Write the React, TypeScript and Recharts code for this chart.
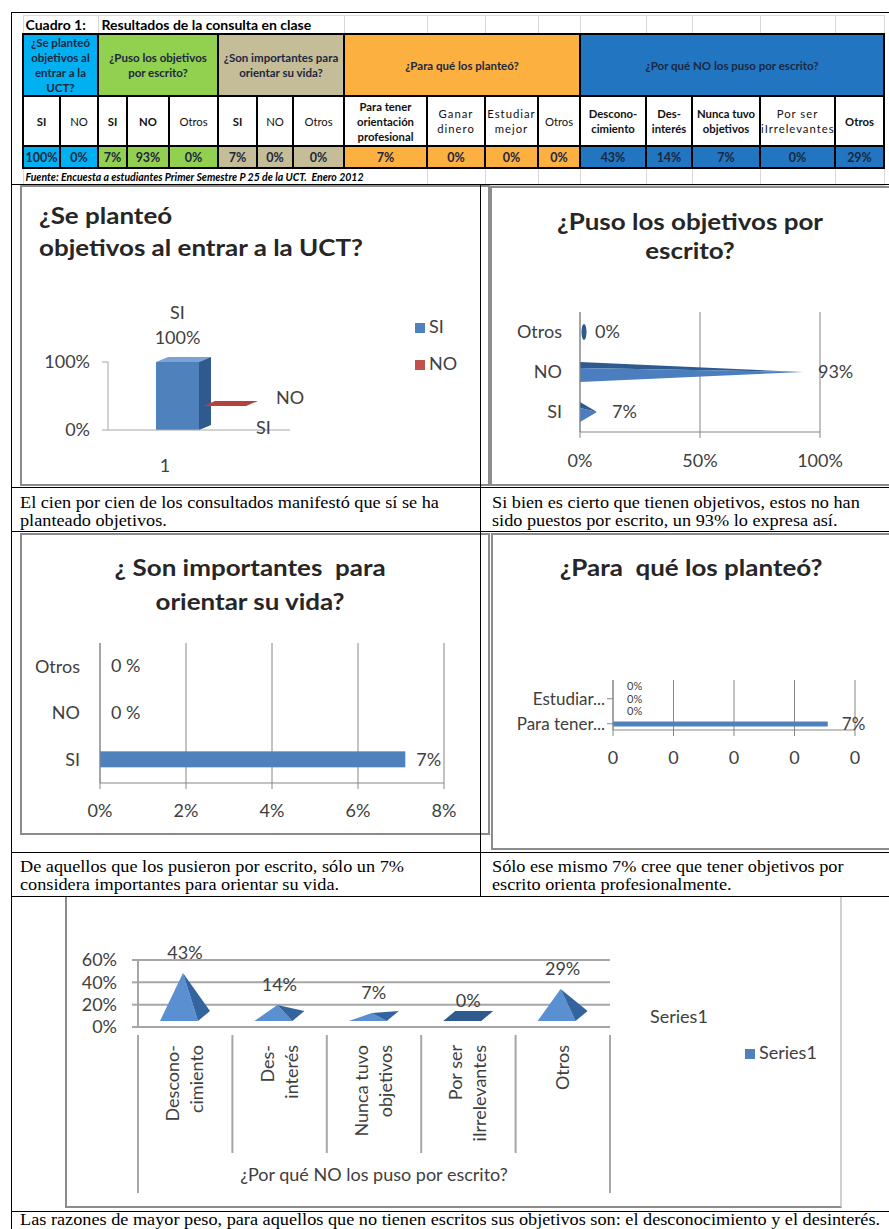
import React from 'react';
import { BarChart, Bar, XAxis, YAxis, CartesianGrid, LabelList } from 'recharts';

// --- datos (Cuadro 1) ---
const plantCats = ['SI', 'NO'];
const plantVals = [1, 0];

const pusoCats = ['SI', 'NO', 'Otros'];
const pusoVals = [0.071, 0.929, 0];

const impCats = ['SI', 'NO', 'Otros'];
const impVals = [0.071, 0, 0];

const paraCats = ['Para tener\norientación\nprofesional', 'Ganar\ndinero', 'Estudiar\nmejor', 'Otros'];
const paraVals = [0.071, 0, 0, 0];

const porqueCats = ['Descono-\ncimiento', 'Des-\ninterés', 'Nunca tuvo\nobjetivos', 'Por ser\niIrrelevantes', 'Otros'];
const porqueVals = [0.429, 0.143, 0.071, 0, 0.286];

const pusoTicks = [0, 0.5, 1];
const impTicks = [0, 0.02, 0.04, 0.06, 0.08];
const porqueTicks = [0, 0.2, 0.4, 0.6];

const FONT = 'Lato, "Open Sans", sans-serif';
const SERIF = '"Liberation Serif", "Times New Roman", serif';
const GRAY = '#404040';
const BLUE = '#4F81BD';
const RED = '#C0504D';

const pct = (v: number) => `${Math.round(v * 100)}%`;
const pctSp = (v: number) => (v === 0 ? '0 %' : pct(v));
const tick = { fill: GRAY, fontSize: 18, fontFamily: FONT };

const shade: Record<string, [string, string]> = {
  [BLUE]: ['#7DA3D6', '#2E5A8F'],
  [RED]: ['#B5403D', '#8E3431'],
};

function Box3D(props: any) {
  const { x, y, width, height, fill, shift } = props;
  const dx = 12, dy = 5;
  const [top, side] = shade[fill] || [fill, fill];
  const [sx, sy] = shift || [0, 0];
  return (
    <g transform={`translate(${sx},${sy})`}>
      {height > 0 && <rect x={x} y={y} width={width} height={height} fill={fill} />}
      <polygon points={`${x},${y} ${x + dx},${y - dy} ${x + width + dx},${y - dy} ${x + width},${y}`} fill={top} />
      <polygon points={`${x + width},${y} ${x + width + dx},${y - dy} ${x + width + dx},${y + height - dy} ${x + width},${y + height}`} fill={side} />
    </g>
  );
}

function FlatBar(props: any) {
  const { x, y, width, height, fill } = props;
  if (!(width > 0) || !(height > 0)) return <g />;
  return <rect x={x} y={y} width={width} height={height} fill={fill} />;
}

function Cone(props: any) {
  const { x, y, width, height } = props;
  const cy = y + height / 2;
  if (width < 2) return <ellipse cx={x + 4} cy={cy} rx={2.5} ry={height * 0.4} fill="#2E5A8F" />;
  const mid = y + height * 0.3;
  return (
    <g>
      <polygon points={`${x},${y} ${x + width},${cy} ${x},${mid}`} fill="#2E5A8F" />
      <polygon points={`${x},${mid} ${x + width},${cy} ${x},${y + height}`} fill="#4A7EBF" />
    </g>
  );
}

const pts = (...p: number[][]) => p.map((q) => q.join(',')).join(' ');

function Pyramid(props: any) {
  const { x, y, width, height } = props;
  const lift = 6, d = 10;
  const b = y + height - lift;
  const fl = [x, b], fr = [x + width * 0.76, b], br = [x + width, b - d], bl = [x + width * 0.24, b - d];
  const ap = [x + width * 0.46, y - lift];
  if (height < 2) return <polygon points={pts(fl, fr, br, bl)} fill="#2E5A8F" />;
  return (
    <g>
      <polygon points={pts(fl, fr, ap)} fill="#5A8FD2" />
      <polygon points={pts(fr, br, ap)} fill="#34649E" />
    </g>
  );
}

function RotTick(props: any) {
  const { x, y, payload, index, visibleTicksCount } = props;
  const lines = String(payload.value).split('\n');
  const half = payload && payload.offset > 0 ? payload.offset : 47;
  const lh = 24;
  const last = index === visibleTicksCount - 1;
  return (
    <g>
      {index === 0 && <line x1={x - half} x2={x - half} y1={y} y2={y + 158} stroke="#a6a6a6" strokeWidth={2} />}
      <line x1={x + half} x2={x + half} y1={y} y2={y + (last ? 158 : 118)} stroke="#a6a6a6" strokeWidth={2} />
      <text transform={`translate(${x},${y + 10}) rotate(-90)`} textAnchor="end" fontSize={18} fill={GRAY} fontFamily={FONT}>
        {lines.map((l, i) => (
          <tspan key={i} x={0} dy={i === 0 ? -((lines.length - 1) / 2) * lh + 6 : lh}>{l}</tspan>
        ))}
      </text>
    </g>
  );
}

// etiquetas de "¿Para qué...?": los 0% van apretados en la banda
const paraLabel = (p: any) => {
  const { x, y, width, height, value } = p;
  const v = Number(value);
  return (
    <text x={x + width + 14} y={y + height / 2} dy="0.35em" fill={GRAY} fontSize={v === 0 ? 11 : 17} fontFamily={FONT}>
      {pct(v)}
    </text>
  );
};

const boldSub = [true, false, true, true, false, true, false, false, true, false, false, false, true, true, true, false, true];
const spacedSub = [9, 10, 15];
const colW = [37, 38, 29, 42, 49, 39, 36, 51, 83, 58, 53, 42, 66, 46, 68, 75, 49];

const groups = [
  { title: '¿Se planteó objetivos al entrar a la UCT?', cats: plantCats, vals: plantVals, color: '#00B0F0' },
  { title: '¿Puso los objetivos por escrito?', cats: pusoCats, vals: pusoVals, color: '#92D050' },
  { title: '¿Son importantes para orientar su vida?', cats: impCats, vals: impVals, color: '#C4BD97' },
  { title: '¿Para qué los planteó?', cats: paraCats, vals: paraVals, color: '#FBB040' },
  { title: '¿Por qué NO los puso por escrito?', cats: porqueCats, vals: porqueVals, color: '#2276C1' },
];

const BK = '2.5px solid #000';
const LT = '1px solid #d9d9d9';

function ResultsTable() {
  const subs = groups.flatMap((g) => g.cats.map((c, i) => ({ c, v: g.vals[i], color: g.color })));
  const ink = '#1c2740';
  return (
    <table style={{ position: 'absolute', left: 22, top: 15, width: 861, borderCollapse: 'collapse', tableLayout: 'fixed', fontFamily: FONT, color: ink }}>
      <colgroup>{colW.map((w, i) => <col key={i} style={{ width: w }} />)}</colgroup>
      <tbody>
        <tr style={{ height: 18 }}>
          <td colSpan={2} style={{ border: LT, borderBottom: BK, fontWeight: 700, fontSize: 14, padding: '0 2px', color: '#000', whiteSpace: 'nowrap' }}>Cuadro 1:</td>
          <td colSpan={6} style={{ border: LT, borderBottom: BK, fontWeight: 700, fontSize: 14, padding: '0 3px', color: '#000', whiteSpace: 'nowrap' }}>Resultados de la consulta en clase</td>
          {colW.slice(8).map((_, i) => <td key={i} style={{ border: LT, borderBottom: BK }} />)}
        </tr>
        <tr style={{ height: 62 }}>
          {groups.map((g, i) => (
            <td key={i} colSpan={g.cats.length} style={{ border: BK, background: g.color, fontSize: 11.5, fontWeight: 700, textAlign: 'center', padding: 0, lineHeight: '15px' }}>
              <div style={{ maxHeight: 60, overflow: 'hidden', padding: '0 3px' }}>{g.title}</div>
            </td>
          ))}
        </tr>
        <tr style={{ height: 50 }}>
          {subs.map((s, i) => (
            <td key={i} style={{ border: BK, background: '#fff', fontSize: 11.3, fontWeight: boldSub[i] ? 700 : 400, textAlign: 'center', padding: 0, lineHeight: '15px', color: '#111', letterSpacing: spacedSub.includes(i) ? 1 : 0, whiteSpace: 'pre-line', overflow: 'hidden' }}>
              {s.c}
            </td>
          ))}
        </tr>
        <tr style={{ height: 22 }}>
          {subs.map((s, i) => (
            <td key={i} style={{ border: BK, background: s.color, fontSize: 12.5, fontWeight: 700, textAlign: 'center', padding: 0 }}>{pct(s.v)}</td>
          ))}
        </tr>
        <tr style={{ height: 17 }}>
          <td colSpan={9} style={{ border: LT, borderTop: BK, fontSize: 10.5, fontStyle: 'italic', fontWeight: 700, padding: '0 2px', color: '#000', whiteSpace: 'nowrap' }}>
            Fuente: Encuesta a estudiantes Primer Semestre P 25 de la UCT.&nbsp; Enero 2012
          </td>
          {colW.slice(9).map((_, i) => <td key={i} style={{ border: LT, borderTop: BK }} />)}
        </tr>
      </tbody>
    </table>
  );
}

const abs = (left: number, top: number, extra: React.CSSProperties = {}): React.CSSProperties => ({ position: 'absolute', left, top, ...extra });
const hLine = (y: number, x1 = 11, x2 = 889) => <div style={abs(x1, y, { width: x2 - x1, height: 1, background: '#000' })} />;
const vLine = (x: number, y1: number, y2: number) => <div style={abs(x, y1, { width: 1, height: y2 - y1, background: '#000' })} />;
const box = (left: number, top: number, w: number, h: number, color = '#8c8c8c') => (
  <div style={abs(left, top, { width: w, height: h, border: `2px solid ${color}`, boxSizing: 'border-box' })} />
);
// el documento original esta estirado a lo ancho
const titleStyle: React.CSSProperties = { fontFamily: FONT, fontWeight: 700, fontSize: 22, color: '#262626', whiteSpace: 'nowrap', transform: 'scaleX(1.18)' };
const caption: React.CSSProperties = { fontFamily: SERIF, fontSize: 16, lineHeight: '18px', color: '#000', whiteSpace: 'nowrap', transform: 'scaleX(1.14)', transformOrigin: 'left top' };
const legendSq = (color: string): React.CSSProperties => ({ display: 'inline-block', width: 10, height: 10, background: color, marginRight: 4 });

export default function App() {
  const plantData = [Object.fromEntries([['name', '1'], ...plantCats.map((c, i) => [c, plantVals[i]])])];
  const pusoData = pusoCats.map((c, i) => ({ name: c, v: pusoVals[i] }));
  const impData = impCats.map((c, i) => ({ name: c, v: impVals[i] }));
  const paraData = paraCats.map((c, i) => ({ name: c, v: paraVals[i] }));
  const porqueData = porqueCats.map((c, i) => ({ name: c, v: porqueVals[i] }));

  const siLabel = (p: any) => {
    const { x, y, width, value } = p;
    if (!value) return null;
    const cx = x + width / 2;
    return (
      <g fill={GRAY} fontSize={18} fontFamily={FONT}>
        <text x={cx} y={y - 43} textAnchor="middle">{plantCats[0]}</text>
        <text x={cx} y={y - 18} textAnchor="middle">{pct(value)}</text>
      </g>
    );
  };

  return (
    <div style={{ position: 'absolute', left: 0, top: 0, width: 889, height: 1229, overflow: 'hidden', background: '#fff', fontFamily: FONT }}>
      <ResultsTable />

      {/* marcos de graficos */}
      {box(20, 185, 470, 301)}
      {box(490, 186, 410, 300)}
      {box(20, 533, 470, 302)}
      {box(491, 533, 410, 317)}
      <div style={abs(65, 897, { width: 777, height: 311, borderLeft: '2px solid #8c8c8c', borderBottom: '2px solid #8c8c8c', borderRight: '2px solid #d0d0d0', boxSizing: 'border-box' })} />

      {/* Grafico 1 */}
      <div style={abs(39, 200, { ...titleStyle, lineHeight: '32px', transformOrigin: 'left top' })}>¿Se planteó<br />objetivos al entrar a la UCT?</div>
      <div style={abs(21, 185)}>
        <BarChart width={458} height={302} data={plantData} margin={{ top: 177, right: 189, bottom: 27, left: 0 }} barGap={0}>
          <XAxis dataKey="name" height={30} tick={{ ...tick, dx: -34 }} tickLine={false} tickMargin={23} axisLine={{ stroke: '#a6a6a6' }} />
          <YAxis domain={[0, 1]} ticks={[0, 1]} tickFormatter={pct} width={87} tick={tick} tickMargin={12} axisLine={{ stroke: '#a6a6a6' }} tickLine={{ stroke: '#a6a6a6' }} />
          <Bar dataKey={plantCats[0]} fill={BLUE} barSize={43} shape={<Box3D />} isAnimationActive={false}>
            <LabelList dataKey={plantCats[0]} content={siLabel} />
          </Bar>
          <Bar dataKey={plantCats[1]} fill={RED} barSize={43} shape={<Box3D shift={[4, -24]} />} isAnimationActive={false} />
        </BarChart>
      </div>
      <div style={abs(276, 386, { fontSize: 18, color: GRAY })}>NO</div>
      <div style={abs(256, 416, { fontSize: 18, color: GRAY })}>SI</div>
      <div style={abs(415, 308, { fontSize: 18, color: GRAY, lineHeight: '37px' })}>
        <div><span style={legendSq(BLUE)} />{plantCats[0]}</div>
        <div><span style={legendSq(RED)} />{plantCats[1]}</div>
      </div>

      {/* Grafico 2 */}
      <div style={abs(490, 207, { ...titleStyle, width: 400, textAlign: 'center', lineHeight: '29px' })}>¿Puso los objetivos por<br />escrito?</div>
      <div style={abs(490, 185)}>
        <BarChart layout="vertical" width={399} height={302} data={pusoData} margin={{ top: 127, right: 69, bottom: 25, left: 0 }}>
          <CartesianGrid horizontal={false} stroke="#868686" />
          <XAxis type="number" domain={[0, 1]} ticks={pusoTicks} tickFormatter={pct} height={30} tick={tick} tickMargin={16} axisLine={{ stroke: '#868686' }} tickLine={{ stroke: '#868686' }} />
          <YAxis type="category" dataKey="name" reversed width={90} tick={tick} tickMargin={12} axisLine={{ stroke: '#868686' }} tickLine={false} />
          <Bar dataKey="v" barSize={20} fill={BLUE} shape={<Cone />} isAnimationActive={false}>
            <LabelList dataKey="v" position="right" offset={15} formatter={(v: any) => pct(Number(v))} fill={GRAY} fontSize={18} />
          </Bar>
        </BarChart>
      </div>

      {/* Grafico 3 */}
      <div style={abs(20, 551, { ...titleStyle, width: 460, textAlign: 'center', lineHeight: '34px' })}>¿ Son importantes&nbsp; para<br />orientar su vida?</div>
      <div style={abs(21, 533)}>
        <BarChart layout="vertical" width={458} height={302} data={impData} margin={{ top: 110, right: 35, bottom: 22, left: 0 }}>
          <CartesianGrid horizontal={false} stroke="#868686" />
          <XAxis type="number" domain={[0, 0.08]} ticks={impTicks} tickFormatter={pct} height={30} tick={tick} tickMargin={15} axisLine={{ stroke: '#868686' }} tickLine={{ stroke: '#868686' }} />
          <YAxis type="category" dataKey="name" reversed width={79} tick={tick} tickMargin={14} axisLine={{ stroke: '#868686' }} tickLine={false} />
          <Bar dataKey="v" barSize={16} fill={BLUE} shape={<FlatBar />} isAnimationActive={false}>
            <LabelList dataKey="v" position="right" offset={11} formatter={(v: any) => pctSp(Number(v))} fill={GRAY} fontSize={18} />
          </Bar>
        </BarChart>
      </div>

      {/* Grafico 4 */}
      <div style={abs(491, 553, { ...titleStyle, width: 400, textAlign: 'center', lineHeight: '29px' })}>¿Para&nbsp; qué los planteó?</div>
      <div style={abs(492, 533)}>
        <BarChart layout="vertical" width={397} height={317} data={paraData} margin={{ top: 147, right: 34, bottom: 90, left: 0 }}>
          <CartesianGrid horizontal={false} stroke="#868686" />
          <XAxis type="number" domain={[0, 0.08]} ticks={impTicks} tickFormatter={(v: number) => String(Math.round(v))} height={30} tick={tick} tickMargin={15} axisLine={{ stroke: '#868686' }} tickLine={{ stroke: '#868686' }} />
          <YAxis type="category" dataKey="name" reversed interval={1} width={121} tick={{ ...tick, fontSize: 17 }} tickFormatter={(v: string) => v.split('\n')[0] + '...'} axisLine={{ stroke: '#868686' }} tickLine={{ stroke: '#868686' }} />
          <Bar dataKey="v" barSize={5} fill={BLUE} shape={<FlatBar />} isAnimationActive={false}>
            <LabelList dataKey="v" content={paraLabel} />
          </Bar>
        </BarChart>
      </div>

      {/* Grafico 5 */}
      <div style={abs(65, 897)}>
        <BarChart width={777} height={311} data={porqueData} margin={{ top: 63, right: 232, bottom: 21, left: 0 }}>
          <CartesianGrid vertical={false} stroke="#a6a6a6" strokeWidth={2} />
          <XAxis dataKey="name" height={160} interval={0} tick={<RotTick />} tickLine={false} axisLine={{ stroke: '#a6a6a6', strokeWidth: 2 }}
            label={{ value: '¿Por qué NO los puso por escrito?', position: 'insideBottom', offset: 6, fill: GRAY, fontSize: 18 }} />
          <YAxis domain={[0, 0.6]} ticks={porqueTicks} interval={0} tickFormatter={pct} width={73} tick={tick} tickMargin={15} axisLine={{ stroke: '#a6a6a6', strokeWidth: 2 }} tickLine={{ stroke: '#a6a6a6', strokeWidth: 2 }} />
          <Bar dataKey="v" barSize={50} fill={BLUE} shape={<Pyramid />} isAnimationActive={false}>
            <LabelList dataKey="v" position="top" offset={20} formatter={(v: any) => pct(Number(v))} fill={GRAY} fontSize={18} />
          </Bar>
        </BarChart>
      </div>
      <div style={abs(650, 1005, { fontSize: 18, color: GRAY })}>Series1</div>
      <div style={abs(745, 1041, { fontSize: 18, color: GRAY })}><span style={legendSq(BLUE)} />Series1</div>

      {/* lineas de la tabla del documento */}
      {hLine(12)}
      {vLine(11, 12, 1229)}
      {hLine(184)}
      {vLine(480, 184, 896)}
      {hLine(487)}
      {hLine(531)}
      {hLine(852)}
      {hLine(896)}
      {hLine(1211)}

      {/* textos */}
      <div style={abs(20, 494, caption)}>El cien por cien de los consultados manifestó que sí se ha<br />planteado objetivos.</div>
      <div style={abs(492, 494, caption)}>Si bien es cierto que tienen objetivos, estos no han<br />sido puestos por escrito, un 93% lo expresa así.</div>
      <div style={abs(20, 858, caption)}>De aquellos que los pusieron por escrito, sólo un 7%<br />considera importantes para orientar su vida.</div>
      <div style={abs(492, 858, caption)}>Sólo ese mismo 7% cree que tener objetivos por<br />escrito orienta profesionalmente.</div>
      <div style={abs(20, 1211, caption)}>Las razones de mayor peso, para aquellos que no tienen escritos sus objetivos son: el desconocimiento y el desinterés.</div>
    </div>
  );
}
